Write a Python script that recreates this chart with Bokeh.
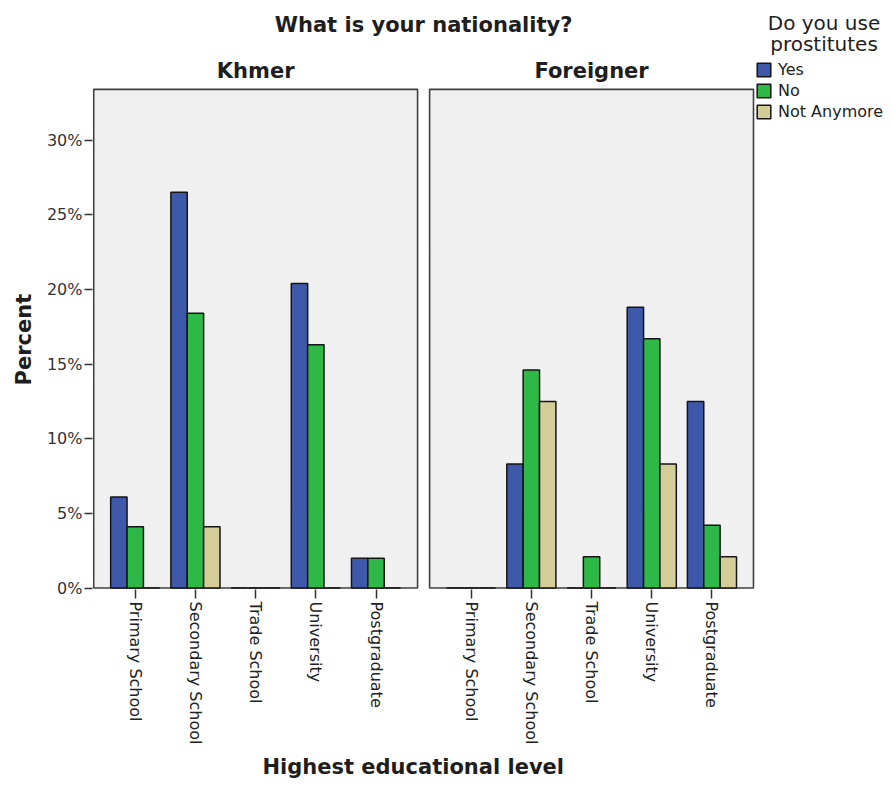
import math
from bokeh.plotting import figure
from bokeh.models import (Range1d, FixedTicker, CustomJSTickFormatter, PrintfTickFormatter,
                          Label, Legend, LegendItem, Title)
from bokeh.embed import file_html
from bokeh.resources import INLINE

# ---------------- data ----------------
categories = ["Primary School", "Secondary School", "Trade School", "University", "Postgraduate"]
nationalities = ["Khmer", "Foreigner"]
responses = ["Yes", "No", "Not Anymore"]
y_ticks = [0, 5, 10, 15, 20, 25, 30]

khmer_yes = [6.1, 26.5, 0.0, 20.4, 2.0]
khmer_no = [4.1, 18.4, 0.0, 16.3, 2.0]
khmer_not_anymore = [0.0, 4.1, 0.0, 0.0, 0.0]

foreigner_yes = [0.0, 8.3, 0.0, 18.8, 12.5]
foreigner_no = [0.0, 14.6, 2.1, 16.7, 4.2]
foreigner_not_anymore = [0.0, 12.5, 0.0, 8.3, 2.1]

series = {
    "Khmer": [khmer_yes, khmer_no, khmer_not_anymore],
    "Foreigner": [foreigner_yes, foreigner_no, foreigner_not_anymore],
}

# ---------------- style ----------------
colors = ["#3E58AA", "#2EB848", "#D3CE97"]
FONT = "DejaVu Sans"
TEXT = "#1e1e1e"
PAD = 0.69
GAP = 0.2
BAR_W = 0.272
Y_TOP = 33.4
n_cat = len(categories)
offsets = [0.0, (n_cat - 1) + 2 * PAD + GAP]

p = figure(width=890, height=785,
           x_range=Range1d(-0.71, 12.546), y_range=Range1d(-0.1, 39.35),
           output_backend="svg", toolbar_location=None,
           min_border_left=92, min_border_right=0,
           min_border_top=0, min_border_bottom=196)
p.outline_line_color = None
p.grid.visible = False
p.background_fill_color = "white"
p.border_fill_color = "white"

# panel backgrounds
p.quad(left=[o - PAD for o in offsets], right=[o + (n_cat - 1) + PAD for o in offsets],
       bottom=0, top=Y_TOP, fill_color="#F0F0F0", line_color="#3f3f3f", line_width=1.6)

legend_renderers = []
for ni, nat in enumerate(nationalities):
    for ri, resp in enumerate(responses):
        xs = [offsets[ni] + i + (ri - 1) * BAR_W for i in range(n_cat)]
        r = p.vbar(x=xs, top=series[nat][ri], bottom=0, width=BAR_W,
                   fill_color=colors[ri], line_color="#151515", line_width=1.5)
        if ni == 0:
            legend_renderers.append(r)

# x axis
p.xaxis.ticker = FixedTicker(ticks=[o + i for o in offsets for i in range(n_cat)])
p.xaxis.formatter = CustomJSTickFormatter(args=dict(labels=categories),
                                          code="return labels[index % labels.length];")
p.xaxis.major_label_orientation = -math.pi / 2
p.xaxis.axis_line_color = None
p.xaxis.major_tick_out = 9
p.xaxis.major_tick_in = 0
p.xaxis.major_tick_line_color = "#333333"
p.xaxis.major_tick_line_width = 1.5
p.xaxis.minor_tick_line_color = None
p.xaxis.major_label_standoff = 3
p.xaxis.major_label_text_font = FONT
p.xaxis.major_label_text_font_size = "16px"
p.xaxis.major_label_text_color = "#222222"

# y axis
p.yaxis.ticker = FixedTicker(ticks=y_ticks)
p.yaxis.formatter = PrintfTickFormatter(format="%d%%")
p.yaxis.axis_line_color = None
p.yaxis.major_tick_out = 8
p.yaxis.major_tick_in = 0
p.yaxis.major_tick_line_color = "#333333"
p.yaxis.major_tick_line_width = 1.5
p.yaxis.minor_tick_line_color = None
p.yaxis.major_label_standoff = 2
p.yaxis.major_label_text_font = FONT
p.yaxis.major_label_text_font_size = "16px"
p.yaxis.major_label_text_color = "#333333"

# axis titles (in side panels)
p.add_layout(Title(text="Percent", align="left", offset=204, standoff=16, text_font=FONT,
                   text_font_size="21px", text_font_style="bold", text_color=TEXT), "left")
p.add_layout(Title(text="Highest educational level", align="left", offset=170,
                   text_font=FONT, text_font_size="21px", text_font_style="bold",
                   text_color=TEXT), "below")

# titles inside the frame
def add_label(x, y, text, size, bold=True, x_units="data"):
    p.add_layout(Label(x=x, y=y, x_units=x_units, y_units="screen", text=text,
                       text_align="center", text_baseline="middle",
                       text_font=FONT, text_font_size=size,
                       text_font_style="bold" if bold else "normal", text_color=TEXT))

mid_x = (offsets[0] - PAD + offsets[1] + (n_cat - 1) + PAD) / 2
add_label(mid_x, 565, "What is your nationality?", "21px")
for ni, nat in enumerate(nationalities):
    add_label(offsets[ni] + (n_cat - 1) / 2, 519, nat, "21px")
add_label(731.5, 567, "Do you use", "20px", bold=False, x_units="screen")
add_label(731.5, 546, "prostitutes", "20px", bold=False, x_units="screen")

legend = Legend(items=[LegendItem(label=resp, renderers=[r]) for resp, r in zip(responses, legend_renderers)],
                location=(663, 468), orientation="vertical",
                glyph_width=17, glyph_height=17, label_height=17, label_standoff=6,
                spacing=2, padding=0, margin=0,
                border_line_color=None, background_fill_alpha=0,
                label_text_font=FONT, label_text_font_size="16px", label_text_color="#222222")
p.add_layout(legend)

open("out.html", "w").write(file_html(p, INLINE))
